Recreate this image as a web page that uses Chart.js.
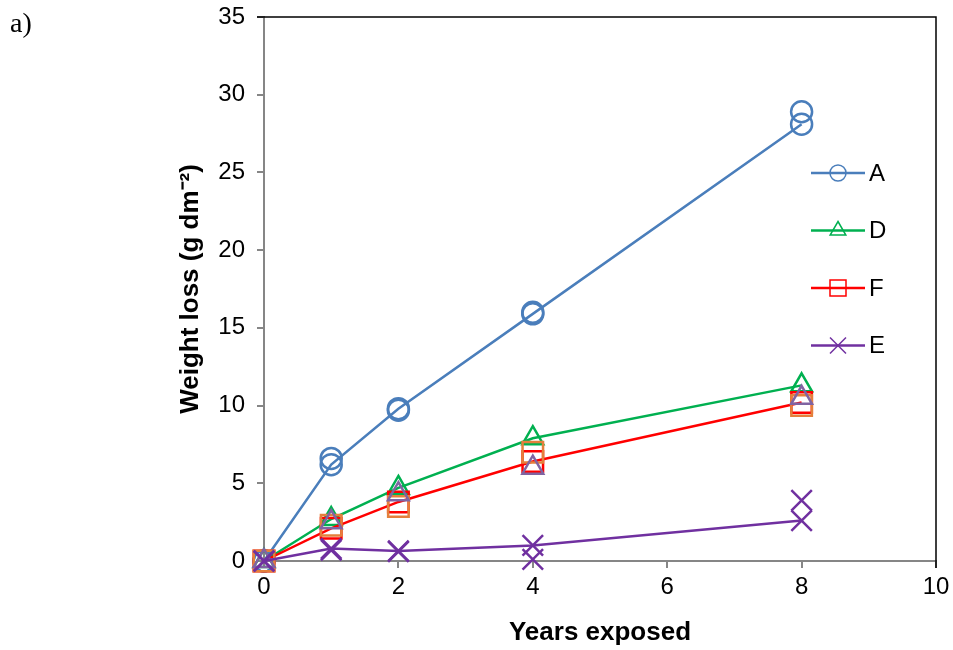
<!DOCTYPE html>
<html lang="en">
  <head>
    <meta charset="UTF-8" />
    <title>Weight loss</title>
    <script src="https://cdn.jsdelivr.net/npm/chart.js@4/dist/chart.umd.min.js"></script>
    <style>
      body { margin: 0; background: #fff; }
      #wrap { position: relative; width: 953px; height: 650px; }
      #tag {
        position: absolute; left: 10px; top: 7px;
        font: 28px "Liberation Serif", "Times New Roman", serif; color: #000;
      }
    </style>
  </head>
  <body>
    <div id="wrap">
      <div id="tag">a)</div>
      <canvas id="myChart" width="953" height="650"></canvas>
    </div>
    <script>
      // exposure times (years)
      const years = [0, 1, 2, 4, 8];

      // weight loss, g dm-2 (first replicate is joined by the line)
      const lossA = [0, 6.2, 9.8, 15.9, 28.1];
      const lossA2 = [0, 6.6, 9.7, 16.0, 28.9];
      const lossD = [0, 2.7, 4.7, 7.9, 11.3];
      const lossD2 = [0, 2.5, 4.3, 6.0, 10.5];
      const lossF = [0, 2.1, 3.8, 6.4, 10.2];
      const lossF2 = [0, 2.3, 3.5, 7.0, 10.0];
      const lossE = [0, 0.8, 0.65, 1.0, 2.6];
      const lossE2 = [0, 0.7, 0.6, 0.1, 3.9];

      const xTicks = { min: 0, max: 10, step: 2 };
      const yTicks = { min: 0, max: 35, step: 5 };

      const FONT = '"Liberation Sans", Arial, sans-serif';

      const pts = (ys) => years.map((x, i) => ({ x: x, y: ys[i] }));

      function series(label, ys, color, style, radius, order, showLine) {
        return {
          label: label,
          data: pts(ys),
          showLine: showLine,
          borderColor: color,
          borderWidth: 2.5,
          pointStyle: style,
          pointRadius: radius,
          pointBorderColor: color,
          pointBorderWidth: 2.5,
          pointBackgroundColor: "rgba(0,0,0,0)",
          tension: 0,
          clip: false,
          order: order,
          inLegend: showLine,
        };
      }

      // draws a hollow marker for the legend
      function marker(ctx, style, x, y, r) {
        ctx.beginPath();
        if (style === "circle") {
          ctx.arc(x, y, r, 0, Math.PI * 2);
        } else if (style === "triangle") {
          ctx.moveTo(x, y - r);
          ctx.lineTo(x + r * 0.87, y + r / 2);
          ctx.lineTo(x - r * 0.87, y + r / 2);
          ctx.closePath();
        } else if (style === "rect") {
          ctx.rect(x - r, y - r, 2 * r, 2 * r);
        } else {
          ctx.moveTo(x - r, y - r);
          ctx.lineTo(x + r, y + r);
          ctx.moveTo(x + r, y - r);
          ctx.lineTo(x - r, y + r);
        }
        ctx.stroke();
      }

      const sideLegend = {
        id: "sideLegend",
        afterDraw(chart) {
          const ctx = chart.ctx;
          const area = chart.chartArea;
          const x0 = area.right - 125;
          const y0 = area.top + 156;
          const sizes = { circle: 8, triangle: 9, rect: 8, crossRot: 8 };
          const items = chart.data.datasets.filter((d) => d.inLegend);
          ctx.save();
          items.forEach((d, i) => {
            const y = y0 + i * 57.5;
            ctx.strokeStyle = d.borderColor;
            ctx.lineWidth = 2.5;
            ctx.beginPath();
            ctx.moveTo(x0, y);
            ctx.lineTo(x0 + 54, y);
            ctx.stroke();
            ctx.lineWidth = 1.5;
            marker(ctx, d.pointStyle, x0 + 27, y, sizes[d.pointStyle]);
            ctx.fillStyle = "#000";
            ctx.font = "24px " + FONT;
            ctx.textBaseline = "middle";
            ctx.textAlign = "left";
            ctx.fillText(d.label, x0 + 58, y + 1);
          });
          ctx.restore();
        },
      };

      // black frame on the top and right edges of the plot
      const frame = {
        id: "frame",
        beforeDatasetsDraw(chart) {
          const { left, right, top, bottom } = chart.chartArea;
          const ctx = chart.ctx;
          ctx.save();
          ctx.strokeStyle = "#000";
          ctx.lineWidth = 1.5;
          ctx.beginPath();
          ctx.moveTo(left - 7, top);
          ctx.lineTo(right, top);
          ctx.lineTo(right, bottom + 7);
          ctx.stroke();
          ctx.restore();
        },
      };

      const axisGray = "#868686";

      new Chart(document.getElementById("myChart"), {
        type: "line",
        data: {
          datasets: [
            series("A", lossA, "#4a7ebb", "circle", 10.5, 8, true),
            series("A2", lossA2, "#4a7ebb", "circle", 10.5, 7, false),
            series("D", lossD, "#00b050", "triangle", 12, 6, true),
            series("F", lossF, "#ff0000", "rect", 14.5, 5, true),
            series("F2", lossF2, "#e4803c", "rect", 14.5, 4, false),
            series("D2", lossD2, "#8064a2", "triangle", 12, 3, false),
            series("E", lossE, "#7030a0", "crossRot", 14.5, 2, true),
            series("E2", lossE2, "#7030a0", "crossRot", 14.5, 1, false),
          ],
        },
        options: {
          responsive: false,
          animation: false,
          layout: { padding: { top: 17, right: 17, left: 0, bottom: 0 } },
          plugins: {
            legend: { display: false },
            tooltip: { enabled: false },
          },
          scales: {
            x: {
              type: "linear",
              min: xTicks.min,
              max: xTicks.max,
              ticks: {
                stepSize: xTicks.step,
                color: "#000",
                font: { size: 24, family: FONT },
                padding: 5,
              },
              grid: {
                drawOnChartArea: false,
                tickLength: 7,
                color: axisGray,
                lineWidth: 2,
              },
              border: { color: axisGray, width: 2 },
              title: {
                display: true,
                text: "Years exposed",
                color: "#000",
                font: { size: 26, weight: "bold", family: FONT },
                padding: { top: 0, bottom: 2 },
              },
              afterFit(s) {
                s.height = 89;
                s.paddingLeft = 0;
                s.paddingRight = 0;
              },
            },
            y: {
              type: "linear",
              min: yTicks.min,
              max: yTicks.max,
              ticks: {
                stepSize: yTicks.step,
                color: "#000",
                font: { size: 24, family: FONT },
                padding: 12,
              },
              grid: {
                drawOnChartArea: false,
                tickLength: 7,
                color: axisGray,
                lineWidth: 2,
              },
              border: { color: axisGray, width: 2 },
              title: {
                display: true,
                text: "Weight loss (g dm⁻²)",
                color: "#000",
                font: { size: 26, weight: "bold", family: FONT },
                padding: { top: 175, bottom: 0 },
              },
              afterFit(s) {
                s.width = 264;
                s.paddingTop = 0;
                s.paddingBottom = 0;
              },
            },
          },
        },
        plugins: [frame, sideLegend],
      });
    </script>
  </body>
</html>
